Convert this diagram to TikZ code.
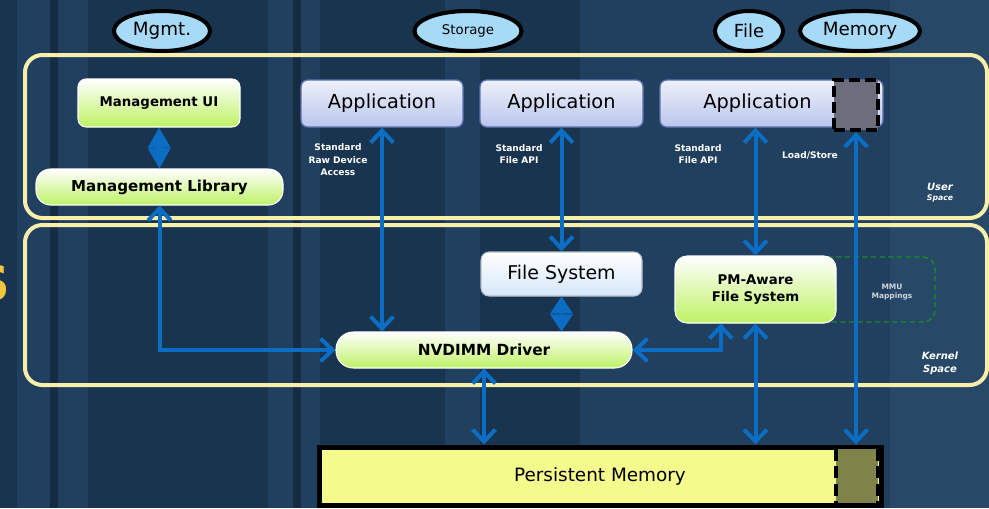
\documentclass[tikz,border=0pt]{standalone}
\usepackage{fontspec}
\setmainfont{DejaVu Sans}
\usetikzlibrary{shapes.geometric,arrows.meta}

\definecolor{bgblue}{HTML}{213F5E}
\definecolor{bgdark}{HTML}{19344F}
\definecolor{bglight}{HTML}{284867}
\definecolor{framey}{HTML}{F8F0AA}
\definecolor{linkblue}{HTML}{0B6EC4}
\definecolor{ovalblue}{HTML}{A6DAF7}
\definecolor{limegreen}{HTML}{BEF264}
\definecolor{appblue}{HTML}{B9C5EC}
\definecolor{appedge}{HTML}{5F72AE}
\definecolor{fsblue}{HTML}{D5E7F8}
\definecolor{pmyellow}{HTML}{F5FA8C}
\definecolor{pmolive}{HTML}{7F8349}
\definecolor{sqgray}{HTML}{6D6E7D}
\definecolor{mmugreen}{HTML}{1A8C22}
\definecolor{titlegold}{HTML}{F2C73E}

\begin{document}
\begin{tikzpicture}[x=0.75pt,y=-0.75pt,
	oval/.style={ellipse,draw=black,line width=3pt,fill=ovalblue,inner sep=0pt,minimum height=30pt},
	greenbox/.style={draw=white,line width=0.8pt,top color=white,bottom color=limegreen,align=center,inner sep=0pt},
	appbox/.style={rounded corners=5pt,draw=appedge,line width=1pt,top color=appblue!25,bottom color=appblue,inner sep=0pt,minimum height=35.25pt},
	region/.style={draw=framey,line width=3pt,rounded corners=13pt},
	tag/.style={text=white,font=\bfseries\fontsize{6.8}{9.4}\selectfont,align=center,inner sep=0pt},
	corner/.style={text=white,font=\bfseries\itshape\fontsize{7.5}{9.75}\selectfont,align=center,inner sep=0pt},
	link/.style={draw=linkblue,line width=3pt,>={Straight Barb[length=9pt,width=17pt]},<->},
	knot/.style={draw=linkblue,fill=linkblue,line width=1pt,>={Triangle[length=#1,width=17pt]},<->},
	knot/.default=15.2pt]
	
	%Backdrop
	\useasboundingbox (0,0) rectangle (989,508);
	\clip (0,0) rectangle (989,508);
	\fill[bgblue] (0,0) rectangle (989,508);
	\foreach \a/\b in {0/17,88/268,320/445,480/580}
	\fill[bgdark] (\a,0) rectangle (\b,508);
	\foreach \a in {50,293}
	\fill[bgdark!85!black] (\a,0) rectangle (\a+8,508);
	\fill[bglight] (890,0) rectangle (989,508);
	\node[text=titlegold,font=\bfseries\fontsize{36}{36}\selectfont,anchor=base east,inner sep=0pt] (cut) at (10,300) {S};
	
	%User and Kernel Space
	\draw[region] (25,55) rectangle (987,218);
	\draw[region] (25,225) rectangle (987,385);
	\node[corner] (usr) at (940,187) {User};
	\node[corner,font=\bfseries\itshape\fontsize{5.8}{7}\selectfont] (usrsp) at (940,198) {Space};
	\node[corner] (kern) at (940,363) {Kernel\\Space};
	
	%Access Modes
	\node[oval,minimum width=72pt,font=\fontsize{13.7}{16}\selectfont] (mgmt) at (162,31) {Mgmt.};
	\node[oval,minimum width=80.25pt,font=\fontsize{10}{12}\selectfont] (stor) at (468,31) {Storage};
	\node[oval,minimum width=51pt,font=\fontsize{13.5}{16}\selectfont] (file) at (749,31) {File};
	\node[oval,minimum width=90pt,font=\fontsize{13.7}{16}\selectfont] (mem) at (860,31) {Memory};
	
	%Management Stack
	\node[greenbox,rounded corners=6pt,minimum width=121.5pt,minimum height=36pt,font=\bfseries\fontsize{10}{12}\selectfont] (mgmtui) at (159,103) {Management UI};
	\node[greenbox,rounded corners=11pt,minimum width=185.25pt,minimum height=27pt,font=\bfseries\fontsize{11.3}{13}\selectfont] (mgmtlib) at (159.5,187) {Management Library};
	
	%Applications
	\node[appbox,minimum width=121.5pt,font=\fontsize{14.5}{16}\selectfont] (app1) at (382,103.5) {Application};
	\node[appbox,minimum width=122.25pt,font=\fontsize{14.5}{16}\selectfont] (app2) at (561.5,103.5) {Application};
	\node[appbox,minimum width=167.25pt] (app3) at (771.5,103.5) {};
	\node[inner sep=0pt,font=\fontsize{14.5}{16}\selectfont] (app3txt) at (757.5,103.5) {Application};
	\node[draw=black,line width=3pt,dash pattern=on 8pt off 4pt,fill=sqgray,minimum width=33pt,minimum height=37.5pt,inner sep=0pt] (sq) at (856,105) {};
	
	%Access Labels
	\node[tag] (rawtag) at (338,160) {Standard\\Raw Device\\Access};
	\node[tag] (fapi1) at (519,154) {Standard\\File API};
	\node[tag] (fapi2) at (698,154) {Standard\\File API};
	\node[tag] (ldst) at (810,155) {Load/Store};
	
	%Kernel Components
	\draw[mmugreen,line width=1.1pt,rounded corners=9pt,dash pattern=on 4pt off 2.5pt] (810,257) rectangle (935,322);
	\node[tag,text=white!78!bgblue,font=\bfseries\fontsize{5.6}{7}\selectfont] (mmu) at (892,292) {MMU\\Mappings};
	\node[rounded corners=6pt,draw=fsblue!60!gray,line width=0.8pt,top color=white,bottom color=fsblue,minimum width=120.75pt,minimum height=33pt,inner sep=0pt,font=\fontsize{14.2}{16}\selectfont] (fs) at (561.5,274) {File System};
	\node[greenbox,rounded corners=9pt,minimum width=120.75pt,minimum height=50.25pt,font=\bfseries\fontsize{10}{13}\selectfont] (pmfs) at (755.5,289.5) {PM-Aware\\File System};
	\node[greenbox,rounded corners=13pt,minimum width=222pt,minimum height=27pt,font=\bfseries\fontsize{11.5}{13}\selectfont] (drv) at (484,350) {NVDIMM Driver};
	
	%Persistent Memory
	\node[draw=black,line width=3.75pt,fill=pmyellow,minimum width=421.5pt,minimum height=43.5pt,inner sep=0pt,font=\fontsize{13.8}{16}\selectfont] (pmem) at (600,476) {Persistent Memory};
	\fill[pmolive] (836,449) rectangle (878,503);
	\foreach \x in {836,878}
	\draw[line width=3.5pt,dash pattern=on 9pt off 4pt] (\x,449) -- (\x,503);
	
	%Data Paths
	\draw[knot] (mgmtui.south) -- (mgmtlib.north);
	\draw[link] (mgmtlib.south) |- (drv.west);
	\draw[link] (app1.south) -- (app1.south |- drv.north);
	\draw[link] (app2.south) -- (fs.north);
	\draw[knot=12.8pt] (fs.south) -- (fs.south |- drv.north);
	\draw[link] (pmfs.north |- app3.south) -- (pmfs.north);
	\draw[link] (sq.south) -- (sq.south |- pmem.north);
	\draw[link] (drv.east) -| ([xshift=-26pt]pmfs.south);
	\draw[link] (pmfs.south) -- (pmfs.south |- pmem.north);
	\draw[link] (drv.south) -- (drv.south |- pmem.north);
	
\end{tikzpicture}
\end{document}
